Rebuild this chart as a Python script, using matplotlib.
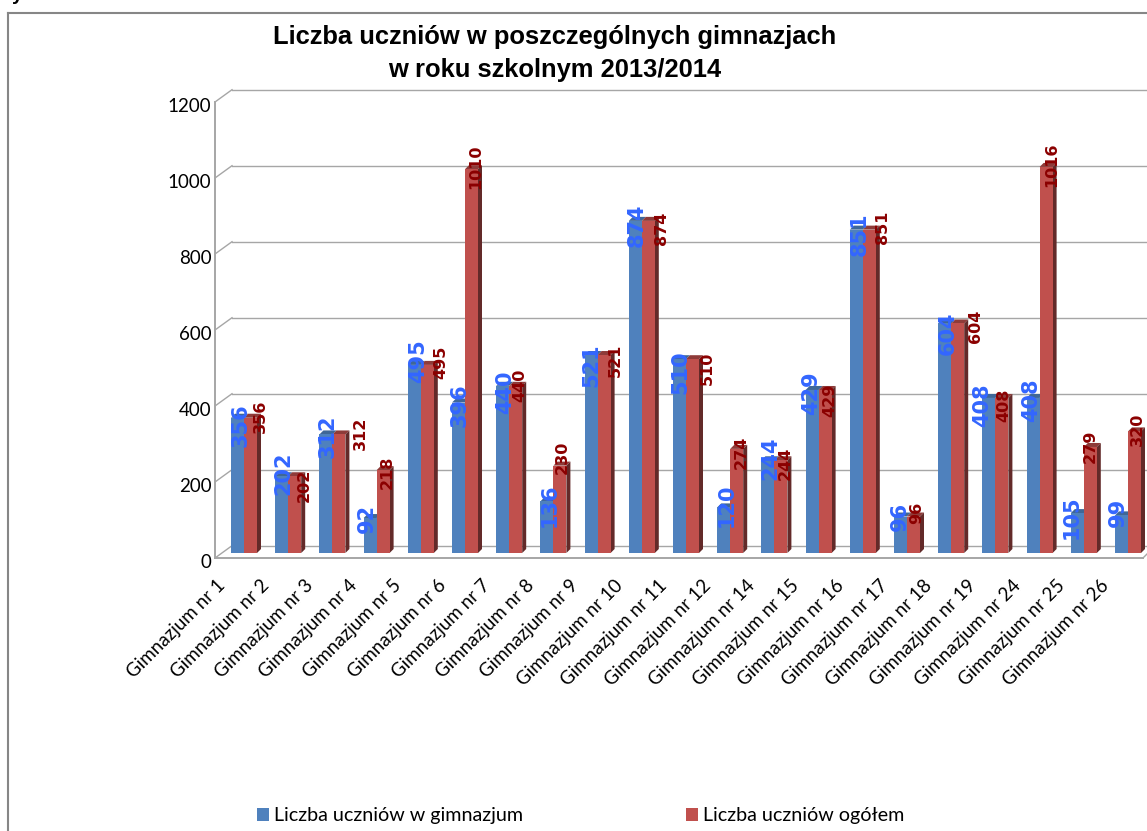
import numpy as np
import matplotlib
matplotlib.use('Agg')
import matplotlib.pyplot as plt
from matplotlib.transforms import ScaledTranslation

# data
categories = ['Gimnazjum nr 1', 'Gimnazjum nr 2', 'Gimnazjum nr 3', 'Gimnazjum nr 4', 'Gimnazjum nr 5',
              'Gimnazjum nr 6', 'Gimnazjum nr 7', 'Gimnazjum nr 8', 'Gimnazjum nr 9', 'Gimnazjum nr 10',
              'Gimnazjum nr 11', 'Gimnazjum nr 12', 'Gimnazjum nr 14', 'Gimnazjum nr 15', 'Gimnazjum nr 16',
              'Gimnazjum nr 17', 'Gimnazjum nr 18', 'Gimnazjum nr 19', 'Gimnazjum nr 24', 'Gimnazjum nr 25',
              'Gimnazjum nr 26']
w_gimnazjum = [356, 202, 312, 92, 495, 396, 440, 136, 521, 874, 510, 120, 244, 429, 851, 96, 604, 408, 408, 105, 99]
ogolem = [356, 202, 312, 218, 495, 1010, 440, 230, 521, 874, 510, 274, 244, 429, 851, 96, 604, 408, 1016, 279, 320]
yticks = [0, 200, 400, 600, 800, 1000, 1200]

# label offsets in pixels from the top of each group
blue_dx = [-3, -5, -5, -10, -3, -5, -4, -4, -6, -5, -6, -4, -4, -7, -3, -7, -3, -13, -8, -12, -10]
blue_dy = [-7, 3, -2, 0, 4, -3, -6, -4, -10, -4, -13, 2, 2, -3, -5, 0, -10, -7, -2, -4, 3]
red_dx = [16, 16, 28, 11, 20, 11, 11, 9, 18, 20, 21, 11, 11, 11, 20, 10, 24, 8, 12, 6, 9]
red_dy = [1, -9, 1, -2, 3, 2, 0, 8, -5, -7, -9, -3, -3, -10, 2, 4, -3, -7, 2, 1, 2]

W, H = 1147, 831
fig = plt.figure(figsize=(W / 100, H / 100), dpi=100)
ax = fig.add_axes([215 / W, (H - 553) / H, (W - 215) / W, 456 / H])

# pixel scales of the axes
px_x = 44.2
px_y = 456 / 1200
x = np.arange(len(categories))
ax.set_xlim((215 - 244) / px_x, (W - 244) / px_x)
ax.set_ylim(0, 1200)
w = 13 / px_x
dx = 4 / px_x
dy = 4 / px_y

# walls of the 3d box
grid_col = '#a6a6a6'
front = -5 / px_y
back = 7.3 / px_y
x0 = ax.get_xlim()[0]
x1 = ax.get_xlim()[1]
xb = x0 + 17 / px_x
for t in yticks:
    ax.plot([xb, x1], [t + back, t + back], color=grid_col, lw=1.0, clip_on=False, zorder=1)
    ax.plot([x0, xb], [t + front, t + back], color=grid_col, lw=1.0, clip_on=False, zorder=1)
ax.plot([x0, x0], [front, 1200 + front], color=grid_col, lw=1.4, clip_on=False, zorder=1)
ax.plot([x0, x1 - 4 / px_x], [front, front], color=grid_col, lw=1.4, clip_on=False, zorder=1)
ax.plot([x1 - 4 / px_x, x1], [front, front + 4 / px_y], color=grid_col, lw=1.0, clip_on=False, zorder=1)

b1 = ax.bar(x - w / 2, w_gimnazjum, w, color='#4f81bd', zorder=3, label='Liczba uczniów w gimnazjum')
for xi, v in zip(x, w_gimnazjum):
    ax.fill([xi - w, xi, xi + dx, xi - w + dx], [v, v, v + dy, v + dy], color='#3f6797', lw=0, zorder=2.9)
b2 = ax.bar(x + w / 2, ogolem, w, color='#c0504d', zorder=4, label='Liczba uczniów ogółem')
for xi, v in zip(x, ogolem):
    ax.fill([xi, xi + w, xi + w + dx, xi + dx], [v, v, v + dy, v + dy], color='#8e3b39', lw=0, zorder=3.9)
    ax.fill([xi + w, xi + w + dx, xi + w + dx, xi + w], [0, dy, v + dy, v], color='#632a29', lw=0, zorder=3.9)

# value labels
for i in x:
    ax.annotate(str(w_gimnazjum[i]), (i, w_gimnazjum[i]), xytext=(blue_dx[i], blue_dy[i]),
                textcoords='offset pixels', rotation=90, ha='center', va='center',
                color='#3366ff', fontsize=15, fontweight='bold', zorder=6, clip_on=False)
    ax.annotate(str(ogolem[i]), (i, ogolem[i]), xytext=(red_dx[i], red_dy[i]),
                textcoords='offset pixels', rotation=90, ha='center', va='center',
                color='#8b0000', fontsize=11.5, fontweight='bold', zorder=6, clip_on=False)

for s in ax.spines.values():
    s.set_visible(False)
ax.patch.set_visible(False)
ax.tick_params(length=0)

ax.set_yticks(yticks)
ax.set_yticklabels([str(t) for t in yticks], fontsize=13.5, family='Lato', color='black')
ax.tick_params(axis='y', pad=4)
for lab in ax.get_yticklabels():
    lab.set_transform(lab.get_transform() + ScaledTranslation(2 / 100, -8 / 100, fig.dpi_scale_trans))

ax.set_xticks(x)
ax.set_xticklabels(categories, rotation=45, ha='right', rotation_mode='anchor', fontsize=13.5, family='Lato')
for lab in ax.get_xticklabels():
    lab.set_transform(lab.get_transform() + ScaledTranslation(-28 / 100, -19 / 100, fig.dpi_scale_trans))

# chart border, only left and top are in the picture
border = '#868686'
fig.add_artist(plt.Line2D([8 / W, 8 / W], [0, 1 - 13 / H], color=border, lw=1.5))
fig.add_artist(plt.Line2D([8 / W, 1], [1 - 13 / H, 1 - 13 / H], color=border, lw=1.5))

fig.text(12 / W, 1, 'y', fontsize=14, fontweight='bold', family='Liberation Sans', va='baseline')
fig.text(555 / W, 1 - 37 / H, 'Liczba uczniów w poszczególnych gimnazjach', fontsize=18.4, fontweight='bold',
         family='Liberation Sans', ha='center', va='center')
fig.text(555 / W, 1 - 70 / H, 'w roku szkolnym 2013/2014', fontsize=18.4, fontweight='bold',
         family='Liberation Sans', ha='center', va='center')

fig.legend(handles=[b1, b2], loc='lower left', bbox_to_anchor=(243 / W, -7 / H), ncol=2, frameon=False,
           prop={'family': 'Lato', 'size': 14.2}, handlelength=0.6, handleheight=0.6, handletextpad=0.25,
           columnspacing=8.3, borderpad=0.2)

fig.savefig('out.png', dpi=100)
